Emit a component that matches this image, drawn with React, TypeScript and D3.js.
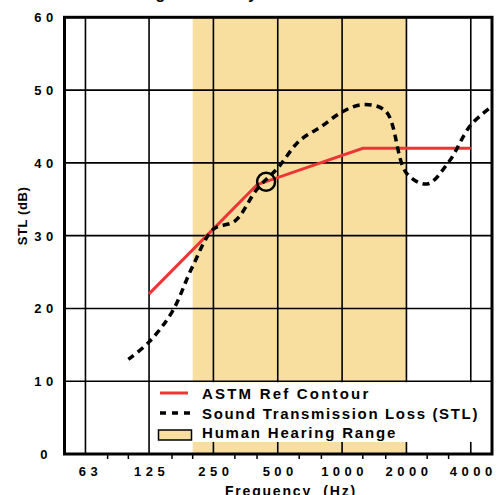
import React from 'react';
import * as d3 from 'd3';

// octave bands shown on the x axis
const octaveFreqs = [63, 125, 250, 500, 1000, 2000, 4000];
const octaveLabels = ['63', '125', '250', '500', '1000', '2000', '4000'];
// third-octave ticks between the octave lines
const minorFreqs = [80, 100, 160, 200, 315, 400, 630, 800, 1250, 1600, 2500, 3150];
const dbTicks = [0, 10, 20, 30, 40, 50, 60];

// measured sound transmission loss (third-octave bands)
const stlFreqs = [100, 125, 160, 200, 250, 315, 400, 500, 630, 800, 1000, 1250, 1600, 2000, 2500, 3150, 4000, 5000];
const stlValues = [13, 15.4, 19.5, 25.8, 30.9, 32, 36.4, 39.3, 43, 45, 47, 48, 47.1, 38.6, 37.1, 40.1, 45.2, 47.7];

// ASTM reference contour
const refFreqs = [125, 400, 1250, 4000];
const refValues = [22, 37, 42, 42];

// human hearing range band and the rating marker
const hearingRange = [200, 2000];
const markerFreq = 441;
const markerDb = 37.4;

const FONT = '"Liberation Sans", Arial, Helvetica, sans-serif';
const RED = '#EE3535';
const GOLD = '#F8DFA0';

export default function App() {
  const width = 498;
  const height = 495;
  const left = 64.5;
  const right = 492;
  const top = 17.3;
  const bottom = 454;

  const x = d3.scaleLog().base(2).domain([50, 5000]).range([left - 0.5, right - 0.5]);
  const y = d3.scaleLinear().domain([0, 60]).range([bottom, top]);

  const stlLine = d3
    .line<number>()
    .x((_, i) => x(stlFreqs[i]))
    .y((d) => y(d))
    .curve(d3.curveCatmullRom.alpha(0.5))(stlValues) as string;

  const refLine = d3
    .line<number>()
    .x((_, i) => x(refFreqs[i]))
    .y((d) => y(d))(refValues) as string;

  const legendTop = y(10) + 1;
  const legendBottom = 442;
  const legendX = x(125) + 1;

  return (
    <svg width={width} height={height} style={{ position: 'absolute', left: 0, top: 0 }}>
      <rect x={0} y={0} width={width} height={height} fill="#fff" />
      {/* title, mostly above the visible area */}
      <text x={99} y={-1.5} fontFamily={FONT} fontWeight="bold" fontSize={16} letterSpacing={1.4}>
        Glazing Assembly
      </text>

      {/* hearing range shading */}
      <rect
        x={x(hearingRange[0])}
        y={top}
        width={x(hearingRange[1]) - x(hearingRange[0])}
        height={bottom - top}
        fill={GOLD}
      />

      {/* grid */}
      {octaveFreqs.map((f) => (
        <line key={'v' + f} x1={x(f)} x2={x(f)} y1={top} y2={bottom} stroke="#000" strokeWidth={1.6} />
      ))}
      {dbTicks.slice(1, -1).map((v) => (
        <line key={'h' + v} x1={left} x2={right} y1={y(v)} y2={y(v)} stroke="#000" strokeWidth={1.6} />
      ))}

      {/* legend box */}
      <rect x={legendX} y={legendTop} width={right - legendX} height={legendBottom - legendTop} fill="#fff" />
      <line x1={160} x2={188} y1={393} y2={393} stroke={RED} strokeWidth={3} />
      <text x={202} y={399} fontFamily={FONT} fontWeight="bold" fontSize={15} letterSpacing={2.2}>
        ASTM Ref Contour
      </text>
      <line x1={160} x2={190} y1={413} y2={413} stroke="#000" strokeWidth={3.5} strokeDasharray="6 6" />
      <text x={202} y={418.5} fontFamily={FONT} fontWeight="bold" fontSize={15} letterSpacing={1.65}>
        Sound Transmission Loss (STL)
      </text>
      <rect x={158.5} y={430} width={33} height={10} fill={GOLD} stroke="#000" strokeWidth={1.5} />
      <text x={202} y={438} fontFamily={FONT} fontWeight="bold" fontSize={15} letterSpacing={1.8}>
        Human Hearing Range
      </text>

      {/* curves */}
      <path d={refLine} fill="none" stroke={RED} strokeWidth={3} />
      <path d={stlLine} fill="none" stroke="#000" strokeWidth={3.5} strokeDasharray="7 5" />
      <circle cx={x(markerFreq)} cy={y(markerDb)} r={9} fill="none" stroke="#000" strokeWidth={2.5} />

      {/* frame */}
      <rect x={left} y={top} width={right - left} height={bottom - top} fill="none" stroke="#000" strokeWidth={3} />

      {/* minor ticks */}
      {minorFreqs.map((f) => (
        <line key={'m' + f} x1={x(f)} x2={x(f)} y1={bottom} y2={bottom + 5} stroke="#000" strokeWidth={1.5} />
      ))}

      {/* x tick labels */}
      {octaveFreqs.map((f, i) => (
        <text
          key={'xl' + f}
          x={x(f) + (i === 0 ? 5 : 2.5)}
          y={476}
          textAnchor="middle"
          fontFamily={FONT}
          fontWeight="bold"
          fontSize={13}
          letterSpacing={4.5}
        >
          {octaveLabels[i]}
        </text>
      ))}

      {/* y tick labels */}
      {dbTicks.map((v) => (
        <text
          key={'yl' + v}
          x={46}
          y={y(v) + 5}
          textAnchor="middle"
          fontFamily={FONT}
          fontWeight="bold"
          fontSize={13}
          letterSpacing={4.5}
        >
          {v}
        </text>
      ))}

      {/* axis titles */}
      <text
        transform="translate(27,216) rotate(-90)"
        textAnchor="middle"
        fontFamily={FONT}
        fontWeight="bold"
        fontSize={13}
        letterSpacing={0.6}
      >
        STL (dB)
      </text>
      <text
        x={291}
        y={496}
        textAnchor="middle"
        fontFamily={FONT}
        fontWeight="bold"
        fontSize={14}
        letterSpacing={1.8}
        style={{ whiteSpace: 'pre' }}
      >
        {'Frequency  (Hz)'}
      </text>
    </svg>
  );
}
